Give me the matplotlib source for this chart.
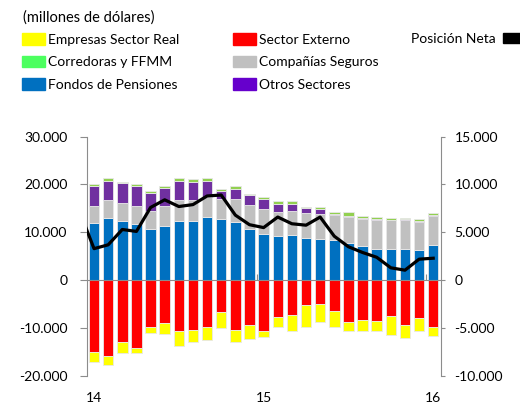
import numpy as np
import matplotlib
matplotlib.use("Agg")
import matplotlib.pyplot as plt
from matplotlib.patches import Patch
from matplotlib.ticker import FuncFormatter
from matplotlib.transforms import blended_transform_factory

plt.rcParams['font.family'] = ['Lato', 'DejaVu Sans']

# meses ene-14 .. ene-16 (millones de dolares)
meses = np.arange(25)
fondos = [12000, 13000, 12400, 11700, 10700, 11400, 12400, 12400, 13200, 12700, 12200, 10700,
          9600, 9200, 9400, 8900, 8600, 8400, 7700, 7100, 6600, 6600, 6600, 6300, 7400]
seguros = [3500, 3700, 3800, 3800, 3700, 4100, 4300, 4300, 4200, 4300, 4800, 5100,
           5200, 5100, 5100, 5100, 5200, 5300, 5500, 5700, 5900, 5900, 5900, 5900, 6100]
otros = [4200, 4000, 4100, 4200, 3900, 3800, 4100, 3900, 3400, 1700, 2000, 2000,
         2100, 1700, 1500, 1000, 1000, 100, 300, 200, 200, 100, 200, 200, 200]
corredoras = [500, 600, 300, 500, 300, 300, 500, 500, 500, 300, 700, 300,
              400, 500, 500, 300, 500, 500, 700, 500, 500, 500, 300, 400, 300]
externo = [-15000, -15800, -13000, -14200, -9700, -9000, -10700, -10300, -9800, -6700, -10300, -9400,
           -10700, -7700, -7200, -5200, -5000, -6500, -8800, -8200, -8500, -7500, -9400, -7900, -9700]
empresas = [-2100, -1800, -2300, -1100, -1300, -2200, -3000, -2700, -2700, -3300, -2500, -2900,
            -1200, -2100, -3500, -4600, -3700, -3300, -1900, -2500, -2200, -4000, -2600, -2800, -2000]
# posicion neta, empieza en dic-13
meses_neta = np.arange(-1, 25)
neta = [7100, 3300, 3700, 5300, 5100, 7600, 8400, 7700, 7900, 8800, 8900, 6800, 5800,
        5500, 6600, 5900, 5750, 6600, 4600, 3500, 2900, 2400, 1300, 1050, 2200, 2300]
anios = ["14", "15", "16"]
pos_anios = [0, 12, 24]

c_amarillo = "#FFFF00"
c_rojo = "#FF0000"
c_verde = "#92D050"
c_gris = "#C0C0C0"
c_azul = "#0070C0"
c_morado = "#7030A0"

fig = plt.figure(figsize=(5.2, 4.03), dpi=100)
ax = fig.add_axes([0.1667, 0.067, 0.6808, 0.594])

w = 0.74
kw = dict(width=w, edgecolor="#e8e8e8", linewidth=0.6)
fondos = np.array(fondos)
seguros = np.array(seguros)
otros = np.array(otros)
ax.bar(meses, fondos, color=c_azul, **kw)
ax.bar(meses, seguros, bottom=fondos, color=c_gris, **kw)
ax.bar(meses, otros, bottom=fondos + seguros, color=c_morado, **kw)
ax.bar(meses, corredoras, bottom=fondos + seguros + otros, color=c_verde, **kw)
ax.bar(meses, externo, color=c_rojo, **kw)
ax.bar(meses, empresas, bottom=externo, color=c_amarillo, **kw)

ax.set_xlim(-0.52, 24.53)
ax.set_ylim(-20000, 30000)
ax.set_yticks(range(-20000, 30001, 10000))
fmt = FuncFormatter(lambda v, p: f"{v:,.0f}".replace(",", "."))
ax.yaxis.set_major_formatter(fmt)

gris_eje = "#8c8c8c"
for s in ["top", "right"]:
    ax.spines[s].set_visible(False)
ax.spines["left"].set_color(gris_eje)
ax.spines["bottom"].set_color(gris_eje)
ax.spines["bottom"].set_position(("data", 0))
ax.set_xticks([11.5, 23.5])
ax.tick_params(axis="x", direction="in", length=4, color=gris_eje, labelbottom=False)
ax.tick_params(axis="y", length=5, color=gris_eje, labelsize=10, pad=9)

tr = blended_transform_factory(ax.transData, ax.transAxes)
for p, a in zip(pos_anios, anios):
    ax.text(p, -0.068, a, transform=tr, ha="center", va="top", fontsize=10)

ax2 = ax.twinx()
ax2.plot(meses_neta, neta, color="black", lw=2.3, solid_joinstyle="round")
ax2.set_ylim(-10000, 15000)
ax2.set_yticks(range(-10000, 15001, 5000))
ax2.yaxis.set_major_formatter(fmt)
for s in ["top", "left", "bottom"]:
    ax2.spines[s].set_visible(False)
ax2.spines["right"].set_color(gris_eje)
ax2.tick_params(axis="y", length=3, color=gris_eje, labelsize=10, pad=7)
ax2.set_xlim(-0.52, 24.53)

fig.text(23 / 520, 1 - 10 / 403, "(millones de dólares)", fontsize=10.5, va="top", ha="left")

leg_kw = dict(frameon=False, fontsize=10, borderpad=0, borderaxespad=0,
              handlelength=1.65, handleheight=0.9, handletextpad=0.25, labelspacing=0.73)
col1 = [Patch(color=c_amarillo, label="Empresas Sector Real"),
        Patch(color="#4CFF5F", label="Corredoras y FFMM"),
        Patch(color=c_azul, label="Fondos de Pensiones")]
col2 = [Patch(color=c_rojo, label="Sector Externo"),
        Patch(color=c_gris, label="Compañías Seguros"),
        Patch(color="#6600CC", label="Otros Sectores")]
l1 = fig.legend(handles=col1, loc="upper left", bbox_to_anchor=(22 / 520, 1 - 33 / 403), **leg_kw)
l2 = fig.legend(handles=col2, loc="upper left", bbox_to_anchor=(233 / 520, 1 - 33 / 403), **leg_kw)
col3 = [Patch(color="black", label="Posición Neta")]
l3 = fig.legend(handles=col3, loc="upper left", bbox_to_anchor=(411 / 520, 1 - 33 / 403),
                markerfirst=False, frameon=False, fontsize=10, borderpad=0, borderaxespad=0,
                handlelength=1.8, handleheight=0.65, handletextpad=0.5)

fig.savefig("out.png", dpi=100)
